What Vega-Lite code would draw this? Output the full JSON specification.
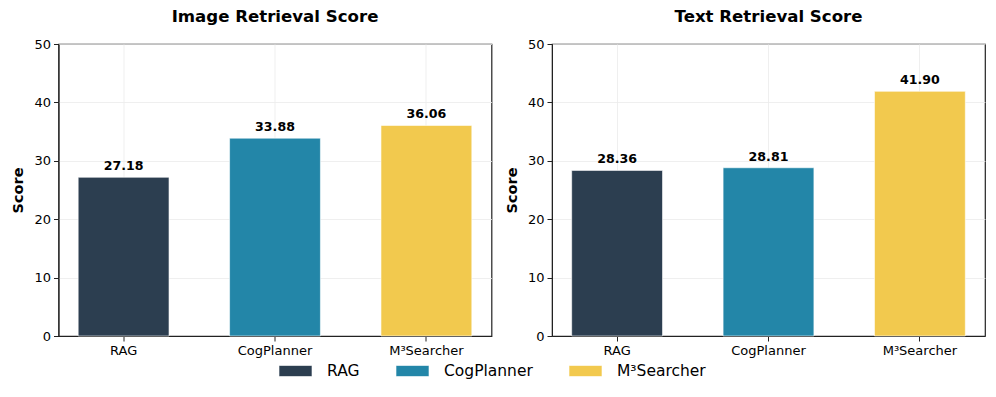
{
  "$schema": "https://vega.github.io/schema/vega-lite/v6.json",
  "background": "white",
  "padding": {"left": 9.5, "top": 8, "right": 8, "bottom": 5},
  "config": {
    "font": "DejaVu Sans",
    "view": {"stroke": "#222222", "strokeWidth": 1.2},
    "axis": {
      "domainColor": "#222222",
      "tickColor": "#222222",
      "labelColor": "black",
      "labelFontSize": 13,
      "titleFontSize": 14.5,
      "titleFontWeight": "bold",
      "titleColor": "black",
      "gridColor": "#ebebeb",
      "gridWidth": 0.8,
      "tickSize": 5
    },
    "title": {"fontSize": 16.6, "fontWeight": "bold", "color": "black", "offset": 12}
  },
  "data": {
    "values": [
      {"panel": "Image", "method": "RAG", "score": 27.18},
      {"panel": "Image", "method": "CogPlanner", "score": 33.88},
      {"panel": "Image", "method": "M³Searcher", "score": 36.06},
      {"panel": "Text", "method": "RAG", "score": 28.36},
      {"panel": "Text", "method": "CogPlanner", "score": 28.81},
      {"panel": "Text", "method": "M³Searcher", "score": 41.90}
    ]
  },
  "spacing": 10.5,
  "resolve": {"scale": {"color": "shared"}},
  "hconcat": [
    {
      "title": "Image Retrieval Score",
      "width": 433,
      "height": 292,
      "transform": [{"filter": "datum.panel == 'Image'"}],
      "encoding": {
        "x": {"field": "method", "type": "nominal", "sort": ["RAG", "CogPlanner", "M³Searcher"],
              "scale": {"paddingInner": 0.4, "paddingOuter": 0.13},
              "axis": {"title": null, "labelAngle": 0, "labelPadding": 3, "grid": true, "bandPosition": 0.5}},
        "y": {"field": "score", "type": "quantitative", "scale": {"domain": [0, 50]},
              "axis": {"title": "Score", "values": [0, 10, 20, 30, 40, 50], "titlePadding": 8, "labelPadding": 3}}
      },
      "layer": [
        {"mark": {"type": "bar", "stroke": "white", "strokeWidth": 0.6},
         "encoding": {"color": {"field": "method", "type": "nominal",
           "scale": {"domain": ["RAG", "CogPlanner", "M³Searcher"], "range": ["#2c3e50", "#2386a8", "#f2c94e"]},
           "legend": {"orient": "none", "direction": "horizontal", "legendX": 225.5, "legendY": 315.5, "title": null,
             "symbolType": "M-1.5,-0.5L1.5,-0.5L1.5,0.5L-1.5,0.5Z", "symbolSize": 484, "symbolStrokeWidth": 0.6, "symbolStrokeColor": "white",
             "labelFontSize": 15.5, "labelColor": "black", "labelOffset": 20, "columnPadding": 34, "symbolOpacity": 1}}}},
        {"mark": {"type": "text", "baseline": "alphabetic", "dy": -7, "fontWeight": "bold", "fontSize": 12.6, "color": "black"},
         "encoding": {"text": {"field": "score", "type": "quantitative", "format": ".2f"}}}
      ]
    },
    {
      "title": "Text Retrieval Score",
      "width": 433,
      "height": 292,
      "transform": [{"filter": "datum.panel == 'Text'"}],
      "encoding": {
        "x": {"field": "method", "type": "nominal", "sort": ["RAG", "CogPlanner", "M³Searcher"],
              "scale": {"paddingInner": 0.4, "paddingOuter": 0.13},
              "axis": {"title": null, "labelAngle": 0, "labelPadding": 3, "grid": true, "bandPosition": 0.5}},
        "y": {"field": "score", "type": "quantitative", "scale": {"domain": [0, 50]},
              "axis": {"title": "Score", "values": [0, 10, 20, 30, 40, 50], "titlePadding": 8, "labelPadding": 3}}
      },
      "layer": [
        {"mark": {"type": "bar", "stroke": "white", "strokeWidth": 0.6},
         "encoding": {"color": {"field": "method", "type": "nominal"}}},
        {"mark": {"type": "text", "baseline": "alphabetic", "dy": -7, "fontWeight": "bold", "fontSize": 12.6, "color": "black"},
         "encoding": {"text": {"field": "score", "type": "quantitative", "format": ".2f"}}}
      ]
    }
  ]
}
